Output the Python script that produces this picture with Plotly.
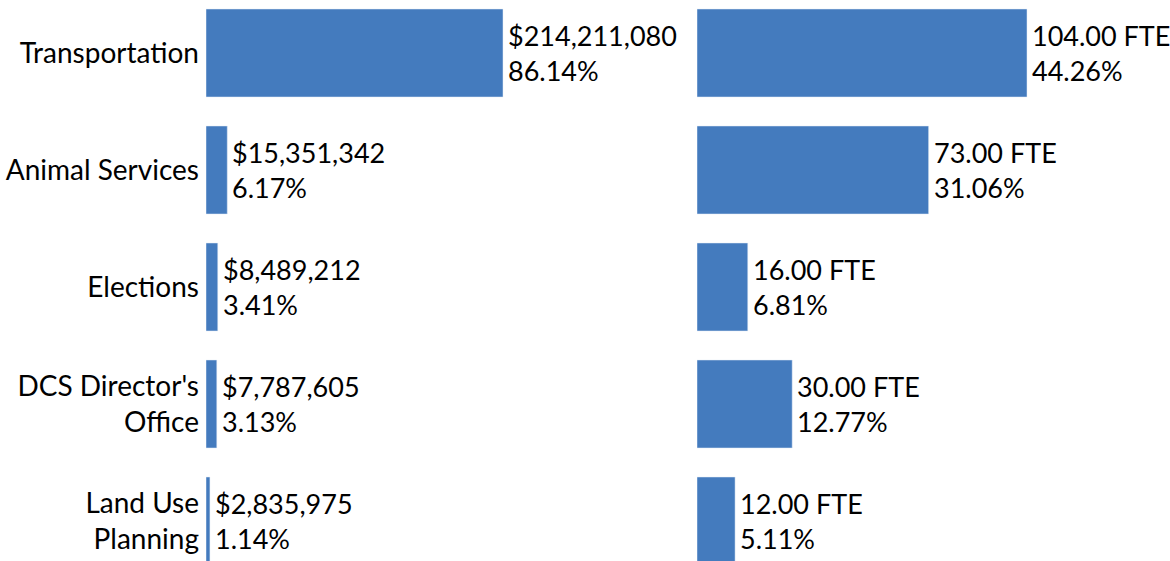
import plotly.graph_objects as go

departments = ["Transportation", "Animal Services", "Elections",
               "DCS Director's<br>Office", "Land Use<br>Planning"]
budget = [214211080, 15351342, 8489212, 7787605, 2835975]
budget_pct = [86.14, 6.17, 3.41, 3.13, 1.14]
fte = [104.00, 73.00, 16.00, 30.00, 12.00]
fte_pct = [44.26, 31.06, 6.81, 12.77, 5.11]

W, H = 1170, 561
BLUE = '#447bbe'
FONT = 'Lato'

budget_text = ['$' + format(v, ',') + '<br>' + '%.2f%%' % p for v, p in zip(budget, budget_pct)]
fte_text = ['%.2f FTE<br>%.2f%%' % (v, p) for v, p in zip(fte, fte_pct)]

fig = go.Figure()
fig.add_trace(go.Bar(y=departments, x=budget, orientation='h', marker_color=BLUE,
                     width=0.752, xaxis='x', yaxis='y', hoverinfo='skip'))
fig.add_trace(go.Bar(y=departments, x=fte, orientation='h', marker_color=BLUE,
                     width=0.752, xaxis='x2', yaxis='y2', hoverinfo='skip'))

# value labels, left aligned just past the end of each bar
for d, v, t in zip(departments, budget, budget_text):
    fig.add_annotation(x=v, y=d, xref='x', yref='y', text=t, showarrow=False,
                       xanchor='left', yanchor='middle', align='left', xshift=3,
                       font=dict(family=FONT, size=27, color='black'))
for d, v, t in zip(departments, fte, fte_text):
    fig.add_annotation(x=v, y=d, xref='x2', yref='y2', text=t, showarrow=False,
                       xanchor='left', yanchor='middle', align='left', xshift=3,
                       font=dict(family=FONT, size=27, color='black'))

# pixel layout
row_px = 117.0
first_center = 53.0
top = -first_center / row_px
bottom = top + H / row_px
left0, left1 = 206, 690
right0, right1 = 697, 1170
left_per_px = 214211080 / 297.0
right_per_px = 104 / 330.0

fig.update_layout(
    width=W, height=H, showlegend=False,
    margin=dict(l=0, r=0, t=0, b=0),
    paper_bgcolor='white', plot_bgcolor='white',
    font=dict(family=FONT, size=27, color='black'),
    xaxis=dict(domain=[left0 / W, left1 / W], range=[0, (left1 - left0) * left_per_px],
               showgrid=False, zeroline=False, showticklabels=False, showline=False),
    xaxis2=dict(domain=[right0 / W, right1 / W], range=[0, (right1 - right0) * right_per_px],
                showgrid=False, zeroline=False, showticklabels=False, showline=False,
                anchor='y2'),
    yaxis=dict(domain=[0, 1], range=[bottom, top], categoryorder='array',
               categoryarray=departments, showgrid=False, zeroline=False,
               showline=False, ticks='', ticklabelstandoff=6,
               tickfont=dict(family=FONT, size=28, color='black')),
    yaxis2=dict(domain=[0, 1], range=[bottom, top], categoryorder='array',
                categoryarray=departments, showgrid=False, zeroline=False,
                showline=False, showticklabels=False, anchor='x2'),
)

fig.write_html("out.html", config={'displayModeBar': False},
               post_script="document.body.style.margin='0';")
